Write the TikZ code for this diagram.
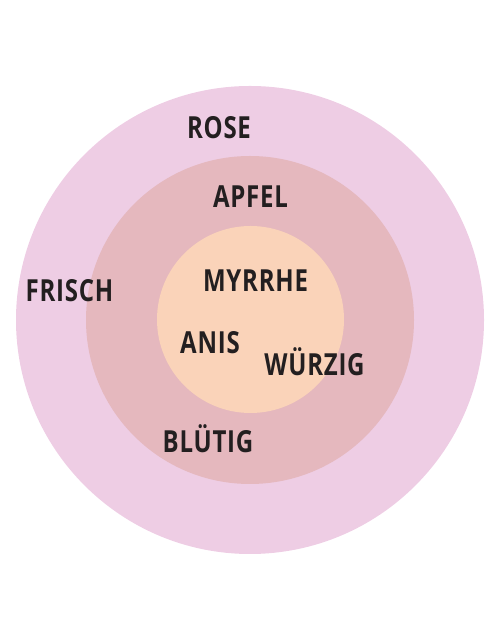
\documentclass[tikz,border=0pt]{standalone}
\usepackage{fontspec}
\usepackage{tikz}
\newfontfamily\aromafont[FakeStretch=0.79,LetterSpace=2.5]{Open Sans}
\definecolor{aromaouter}{RGB}{238,205,228}
\definecolor{aromamiddle}{RGB}{229,184,190}
\definecolor{aromainner}{RGB}{250,211,185}
\definecolor{aromaink}{RGB}{35,31,32}
\tikzset{aroma/.style={text=aromaink,anchor=base,inner sep=0pt,font=\aromafont\bfseries\fontsize{30.5}{33}\selectfont}}

\begin{document}
\begin{tikzpicture}[x=1bp,y=1bp]
\useasboundingbox (0,0) rectangle (500,640);
% ---------------- rings ----------------
\fill[aromaouter] (250,320) circle (234);
\fill[aromamiddle] (250,320) circle (164);
\fill[aromainner] (250.5,320.5) circle (93.5);
% ---------------- words ----------------
\node[aroma] (rose) at (219,501.7) {ROSE};
\node[aroma] (apfel) at (250.5,432) {APFEL};
\node[aroma] (frisch) at (69.5,338) {FRISCH};
\node[aroma] (myrrhe) at (255.5,348) {MYRRHE};
\node[aroma] (anis) at (210,286) {ANIS};
\node[aroma] (wuerzig) at (314.5,264) {WÜRZIG};
\node[aroma] (bluetig) at (208,187) {BLÜTIG};
\end{tikzpicture}
\end{document}
